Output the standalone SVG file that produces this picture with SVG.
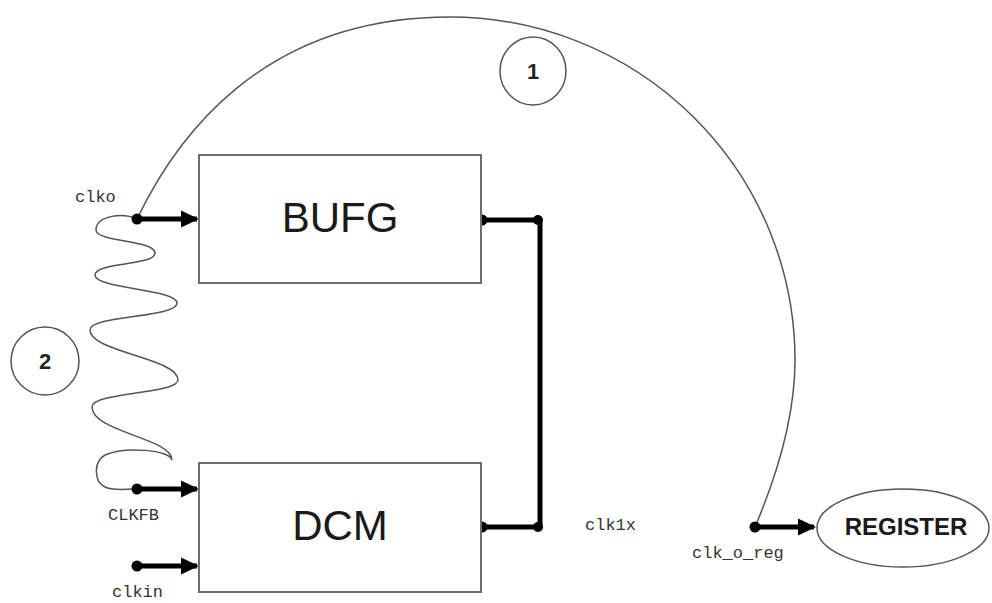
<svg xmlns="http://www.w3.org/2000/svg" width="992" height="603" viewBox="0 0 992 603">
<style>
.box{fill:#fff;stroke:#6e6e6e;stroke-width:2}
.big{font-family:"Liberation Sans",Arial,sans-serif;font-size:42px;fill:#1a1a1a;text-anchor:middle}
.lbl{font-family:"Liberation Mono","Courier New",monospace;font-size:17px;fill:#333}
.num{font-family:"Liberation Sans",Arial,sans-serif;font-size:22px;font-weight:bold;fill:#222;text-anchor:middle}
.thin{fill:none;stroke:#555;stroke-width:1.5}
.thick{fill:none;stroke:#000;stroke-width:5;stroke-linejoin:round}
.dot{fill:#000}
</style>
<defs>
<marker id="ah" markerWidth="4" markerHeight="4" refX="3.2" refY="2" orient="auto" markerUnits="strokeWidth">
<path d="M0,0.3 L3.6,2 L0,3.7 Z" fill="#000"/>
</marker>
</defs>
<rect width="992" height="603" fill="#fff"/>

<g id="connectors">
<path id="wire1" class="thin" d="M137,219 C175,140 260,17 450,17 A345,343 0 0 1 795,360 C795,420 775,480 755,527"/>
<path id="wire2" class="thin" d="M137,219 C122,212 96,216 96,230 C96,242 155,240 155,253 C155,266 95,262 95,275 C95,289 177,289 177,303 C177,318 90,315 90,330 C90,352 178,358 178,380 C178,394 92,392 92,407 C92,432 172,438 172,460 C170,450 125,446 105,455 C93,462 94,482 105,487 C112,491 125,489 137,489"/>
<path class="thick" marker-end="url(#ah)" d="M137,219 L197,219"/>
<path class="thick" marker-end="url(#ah)" d="M137,489 L197,489"/>
<path class="thick" marker-end="url(#ah)" d="M137,566 L197,566"/>
<path class="thick" d="M482,220 L540,220 L540,527 L482,527"/>
<path class="thick" marker-end="url(#ah)" d="M755,527 L814,527"/>
<circle class="dot" cx="137" cy="219" r="5.5"/>
<circle class="dot" cx="137" cy="489" r="5.5"/>
<circle class="dot" cx="137" cy="566" r="5.5"/>
<circle class="dot" cx="482" cy="220" r="5.5"/>
<circle class="dot" cx="538" cy="220" r="5"/>
<circle class="dot" cx="482" cy="527" r="5.5"/>
<circle class="dot" cx="538" cy="527" r="5"/>
<circle class="dot" cx="755" cy="527" r="5.5"/>
</g>

<g id="bufg">
<rect class="box" x="199" y="155" width="282" height="128"/>
<text class="big" x="340" y="232">BUFG</text>
</g>
<g id="dcm">
<rect class="box" x="199" y="463" width="282" height="129"/>
<text class="big" x="340" y="540">DCM</text>
</g>
<g id="register">
<ellipse cx="903" cy="528" rx="86" ry="39" fill="#fff" stroke="#555" stroke-width="1.5"/>
<text x="906" y="535" font-family="Liberation Sans,Arial,sans-serif" font-size="24" font-weight="bold" fill="#1a1a1a" text-anchor="middle">REGISTER</text>
</g>
<g id="mark1">
<ellipse cx="533" cy="71" rx="33" ry="34" fill="#fff" stroke="#555" stroke-width="1.5"/>
<text class="num" x="533" y="79">1</text>
</g>
<g id="mark2">
<ellipse cx="45" cy="361" rx="34" ry="34" fill="#fff" stroke="#555" stroke-width="1.5"/>
<text class="num" x="45" y="369">2</text>
</g>
<g id="labels">
<text class="lbl" x="75" y="202">clko</text>
<text class="lbl" x="108" y="520">CLKFB</text>
<text class="lbl" x="112" y="597">clkin</text>
<text class="lbl" x="585" y="530">clk1x</text>
<text class="lbl" x="692" y="558">clk_o_reg</text>
</g>
</svg>
